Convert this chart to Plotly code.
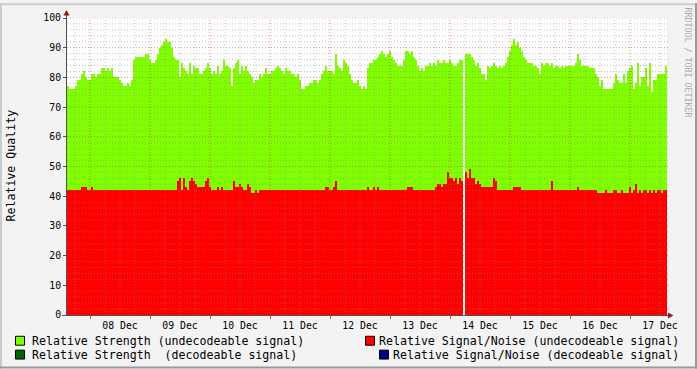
import plotly.graph_objects as go
import pandas as pd

# ---------------- data (one sample per 48 minutes) ----------------
sample_start = "2023-12-07 15:12"   # centre of first sample
sample_step = "48min"

strength_undecodeable = [
    77, 76, 76, 76, 77, 79, 79, 81, 82, 80,
    79, 79, 81, 81, 80, 81, 81, 83, 83, 82,
    83, 82, 83, 80, 80, 80, 79, 78, 77, 77,
    78, 77, 79, 86, 87, 87, 87, 87, 87, 88,
    88, 86, 85, 85, 86, 88, 90, 91, 92, 93,
    92, 92, 90, 87, 86, 86, 80, 85, 83, 82,
    81, 85, 81, 84, 83, 83, 81, 81, 82, 83,
    85, 83, 81, 82, 81, 84, 81, 82, 86, 84,
    84, 83, 77, 83, 85, 86, 81, 84, 82, 84,
    82, 81, 80, 78, 79, 79, 81, 80, 81, 83,
    81, 81, 82, 82, 83, 84, 83, 82, 81, 83,
    82, 82, 81, 81, 80, 81, 79, 76, 76, 77,
    77, 78, 78, 79, 79, 78, 79, 81, 82, 84,
    82, 82, 82, 81, 88, 84, 83, 82, 86, 85,
    84, 81, 79, 78, 78, 79, 77, 76, 77, 76,
    83, 85, 85, 86, 86, 87, 88, 89, 88, 87,
    88, 89, 87, 86, 85, 84, 84, 84, 86, 89,
    89, 88, 89, 87, 86, 84, 82, 83, 82, 84,
    84, 85, 84, 85, 84, 86, 85, 85, 86, 85,
    85, 86, 85, 84, 84, 85, 86, 86, None, 88,
    88, 88, 87, 86, 84, 85, 83, 81, 81, 79,
    84, 83, 84, 85, 84, 83, 84, 83, 84, 85,
    87, 89, 91, 93, 91, 92, 90, 89, 87, 86,
    85, 85, 85, 84, 84, 83, 81, 85, 84, 85,
    85, 84, 85, 83, 84, 84, 83, 84, 83, 84,
    84, 84, 84, 84, 85, 88, 86, 84, 84, 84,
    84, 83, 83, 83, 81, 80, 77, 79, 76, 76,
    76, 76, 76, 78, 81, 79, 78, 78, 81, 78,
    82, 83, 84, 76, 78, 85, 77, 80, 80, 83,
    77, 85, 75, 79, 79, 81, 81, 81, 81, 84,
]

snr_undecodeable = [
    42, 42, 42, 42, 42, 42, 42, 43, 43, 43,
    42, 42, 43, 42, 42, 42, 42, 42, 42, 42,
    42, 42, 42, 42, 42, 42, 42, 42, 42, 42,
    42, 42, 42, 42, 42, 42, 42, 42, 42, 42,
    42, 42, 42, 42, 42, 42, 42, 42, 42, 42,
    42, 42, 42, 42, 42, 45, 46, 42, 46, 43,
    42, 45, 46, 45, 44, 43, 43, 43, 43, 45,
    46, 43, 42, 42, 42, 43, 42, 43, 42, 42,
    42, 42, 42, 45, 43, 43, 44, 43, 42, 42,
    44, 43, 41, 41, 42, 41, 42, 42, 42, 42,
    42, 42, 42, 42, 42, 42, 42, 42, 42, 42,
    42, 42, 42, 42, 42, 42, 42, 42, 42, 42,
    42, 42, 42, 42, 42, 42, 42, 42, 42, 43,
    43, 42, 42, 43, 45, 42, 42, 42, 42, 42,
    42, 42, 42, 42, 42, 42, 42, 42, 42, 42,
    43, 42, 42, 43, 42, 43, 42, 42, 42, 42,
    42, 42, 42, 42, 42, 42, 42, 42, 42, 42,
    43, 43, 43, 42, 42, 42, 42, 42, 42, 42,
    42, 42, 42, 42, 43, 44, 44, 43, 44, 44,
    48, 46, 46, 45, 46, 44, 46, 45, None, 48,
    46, 49, 46, 46, 44, 45, 44, 43, 43, 43,
    43, 43, 43, 46, 45, 42, 42, 42, 42, 42,
    42, 42, 42, 43, 43, 43, 43, 42, 42, 42,
    42, 42, 42, 42, 42, 42, 42, 42, 42, 42,
    42, 42, 45, 42, 42, 42, 42, 42, 42, 42,
    42, 42, 42, 42, 42, 43, 42, 42, 42, 42,
    42, 42, 42, 42, 42, 41, 41, 41, 41, 42,
    41, 41, 41, 42, 42, 41, 41, 42, 41, 41,
    41, 43, 41, 42, 44, 41, 42, 41, 42, 42,
    41, 42, 41, 42, 41, 42, 42, 41, 42, 42,
]

# decodeable series carry no values in this period
strength_decodeable = []
snr_decodeable = []

series_names = [
    "Relative Strength (undecodeable signal)",
    "Relative Strength  (decodeable signal)",
    "Relative Signal/Noise (undecodeable signal)",
    "Relative Signal/Noise (decodeable signal)",
]
series_colors = ["#7fff00", "#006400", "#ff0000", "#000088"]

y_ticks = list(range(0, 101, 10))
x_range = ["2023-12-07 14:48", "2023-12-17 14:48"]
day_ticks = pd.date_range("2023-12-08", "2023-12-17", freq="1D")
six_hour_ticks = pd.date_range("2023-12-07 18:00", "2023-12-17 12:00", freq="6h")

times = pd.date_range(sample_start, periods=len(strength_undecodeable), freq=sample_step)
bar_w = pd.Timedelta(sample_step).total_seconds() * 1000

# ---------------- layout geometry ----------------
W, H = 697, 369
PL, PR, PT, PB = 67, 667, 15, 315
FONT = "DejaVu Sans Mono"


def px(x):
    return (x - PL) / (PR - PL)


def py(y):
    return (PB - y) / (PB - PT)


fig = go.Figure()
fig.add_trace(go.Bar(x=times, y=strength_undecodeable, width=bar_w,
                     marker=dict(color=series_colors[0], line=dict(width=0)),
                     name=series_names[0], showlegend=False))
fig.add_trace(go.Bar(x=times[:len(strength_decodeable)], y=strength_decodeable, width=bar_w,
                     marker=dict(color=series_colors[1], line=dict(width=0)),
                     name=series_names[1], showlegend=False))
fig.add_trace(go.Bar(x=times, y=snr_undecodeable, width=bar_w,
                     marker=dict(color=series_colors[2], line=dict(width=0)),
                     name=series_names[2], showlegend=False))
fig.add_trace(go.Bar(x=times[:len(snr_decodeable)], y=snr_decodeable, width=bar_w,
                     marker=dict(color=series_colors[3], line=dict(width=0)),
                     name=series_names[3], showlegend=False))

shapes = []
minor_col = "rgba(140,140,140,0.5)"
major_col = "rgba(200,40,40,0.55)"
dash = "1px,2px"
# grid drawn above the areas, like rrdtool
for t in six_hour_ticks:
    if t.hour == 0:
        continue
    shapes.append(dict(type="line", xref="x", yref="paper", x0=t, x1=t, y0=0, y1=1,
                       line=dict(color=minor_col, width=1, dash=dash), layer="above"))
for v in range(2, 100, 2):
    if v % 10 == 0:
        continue
    shapes.append(dict(type="line", xref="paper", yref="y", x0=0, x1=1.005, y0=v, y1=v,
                       line=dict(color=minor_col, width=1, dash=dash), layer="above"))
for t in day_ticks:
    shapes.append(dict(type="line", xref="x", yref="paper", x0=t, x1=t, y0=0, y1=1,
                       line=dict(color=major_col, width=1, dash=dash), layer="above"))
for v in y_ticks[1:]:
    shapes.append(dict(type="line", xref="paper", yref="y", x0=0, x1=1.005, y0=v, y1=v,
                       line=dict(color=major_col, width=1, dash=dash), layer="above"))

# axis extensions and arrows
axis_col = "#505050"
arrow_col = "#8b1a1a"
shapes.append(dict(type="line", xref="paper", yref="paper", x0=px(66.5), x1=px(66.5),
                   y0=py(315), y1=py(11), line=dict(color=axis_col, width=1), layer="above"))
shapes.append(dict(type="line", xref="paper", yref="paper", x0=px(62), x1=px(669),
                   y0=py(315.5), y1=py(315.5), line=dict(color=axis_col, width=1), layer="above"))
shapes.append(dict(type="path", xref="paper", yref="paper",
                   path=f"M {px(63.5)} {py(12.5)} L {px(69.5)} {py(12.5)} L {px(66.5)} {py(7)} Z",
                   fillcolor=arrow_col, line=dict(width=0), layer="above"))
shapes.append(dict(type="path", xref="paper", yref="paper",
                   path=f"M {px(668)} {py(312.5)} L {px(668)} {py(318.5)} L {px(673.5)} {py(315.5)} Z",
                   fillcolor=arrow_col, line=dict(width=0), layer="above"))

# outer frame (rrdtool shade)
shapes.append(dict(type="line", xref="paper", yref="paper", x0=px(0), x1=px(697),
                   y0=py(1), y1=py(1), line=dict(color="#cbcbcb", width=2)))
shapes.append(dict(type="line", xref="paper", yref="paper", x0=px(1), x1=px(1),
                   y0=py(0), y1=py(369), line=dict(color="#cbcbcb", width=2)))
shapes.append(dict(type="line", xref="paper", yref="paper", x0=px(0), x1=px(697),
                   y0=py(368), y1=py(368), line=dict(color="#999999", width=2)))
shapes.append(dict(type="line", xref="paper", yref="paper", x0=px(696), x1=px(696),
                   y0=py(0), y1=py(369), line=dict(color="#999999", width=2)))

annotations = []
# legend (rrdtool style)
legend_rows = [341, 355]
box_left = [(15, 24), (15, 24), (365, 374), (379, 388)]
for k, name in enumerate(series_names):
    row = legend_rows[k % 2]
    bx0, bx1 = box_left[k]
    shapes.append(dict(type="rect", xref="paper", yref="paper",
                       x0=px(bx0 + 0.5), x1=px(bx1 + 0.5), y0=py(row - 4.5), y1=py(row + 4.5),
                       fillcolor=series_colors[k], line=dict(color="#000000", width=1)))
    if k < 2:
        annotations.append(dict(xref="paper", yref="paper", x=px(30), y=py(row),
                                xanchor="left", yanchor="middle", showarrow=False, text=name,
                                font=dict(family=FONT, size=11.6, color="#000000")))
    else:
        annotations.append(dict(xref="paper", yref="paper", x=px(681), y=py(row),
                                xanchor="right", yanchor="middle", showarrow=False, text=name,
                                font=dict(family=FONT, size=11.6, color="#000000")))

annotations.append(dict(xref="paper", yref="paper", x=px(11), y=py(164), textangle=-90,
                        xanchor="center", yanchor="middle", showarrow=False,
                        text="Relative Quality",
                        font=dict(family=FONT, size=11.6, color="#000000")))
annotations.append(dict(xref="paper", yref="paper", x=px(688), y=py(60), textangle=90,
                        xanchor="center", yanchor="middle", showarrow=False,
                        text="RRDTOOL / TOBI OETIKER",
                        font=dict(family=FONT, size=8.3, color="#aaaaaa")))

fig.update_layout(
    width=W, height=H,
    margin=dict(l=PL, r=W - PR, t=PT, b=H - PB, pad=0),
    paper_bgcolor="#f3f3f3", plot_bgcolor="#ffffff",
    barmode="overlay", bargap=0,
    showlegend=False,
    shapes=shapes, annotations=annotations,
    font=dict(family=FONT, size=10, color="#000000"),
    xaxis=dict(type="date", range=x_range, showgrid=False, zeroline=False,
               tickmode="linear", tick0="2023-12-08", dtick=86400000,
               ticklabelmode="period", tickformat="%d %b",
               ticks="outside", ticklen=3, tickcolor="rgba(200,40,40,0.8)",
               ticklabelstandoff=-2,
               tickfont=dict(family=FONT, size=9.8, color="#000000"),
               showline=False),
    yaxis=dict(range=[0, 100], tickvals=y_ticks, showgrid=False, zeroline=False,
               ticks="outside", ticklen=3, tickcolor=axis_col,
               tickfont=dict(family=FONT, size=9.8, color="#000000"),
               showline=False),
)

fig.write_html("out.html")
